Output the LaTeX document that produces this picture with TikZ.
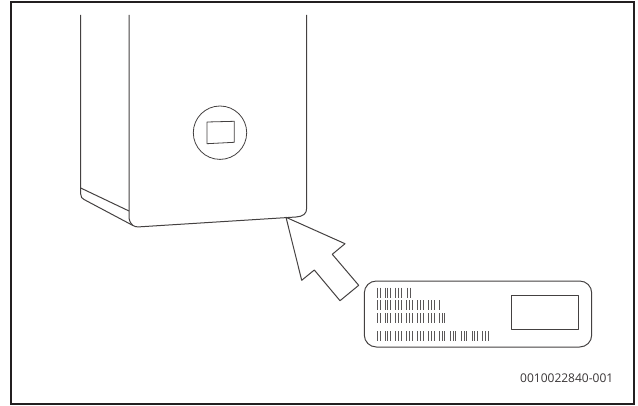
\documentclass[tikz,border=0pt]{standalone}
\usepackage{fontspec}
\setmainfont{Open Sans}
\definecolor{frameblack}{HTML}{231F20}
\tikzset{
    outline/.style={draw=frameblack!85, line width=0.75pt, line join=round},
    thinline/.style={draw=frameblack!85, line width=0.6pt, line join=round},
    barcode/.style={draw=frameblack!75, line width=0.7pt},
    figno/.style={font=\fontsize{9}{11}\selectfont, text=frameblack!90, inner sep=0pt},
}
% one row of the label: top y, list of groups of strokes
\newcommand{\barrow}[2]{%
  \foreach \gx/\gn in {#2} {
    \foreach \k in {1,...,\gn} {
      \draw[barcode] ({\gx+(\k-1)*2.7},#1) -- ({\gx+(\k-1)*2.7},#1+10);
    }
  }
}
\begin{document}
\begin{tikzpicture}[x=0.75pt,y=-0.75pt]
\useasboundingbox (0,0) rectangle (638,406);
% frame
\draw[draw=frameblack, line width=1.6pt] (11,2) rectangle (634,404);
% appliance
\draw[outline] (80.7,15) -- (80.7,194) .. controls (80.7,197) and (82,198.5) .. (84,199.5) -- (132,225) .. controls (134,226.5) and (136,227) .. (140,226.8) -- (296,217) .. controls (303,216.5) and (306.7,214) .. (306.7,208) -- (306.7,15);
\draw[outline] (129,15) -- (129,216) .. controls (129,220) and (130,223) .. (133,225.5);
\draw[outline] (80.7,188) -- (129,211);
\draw[thinline] (220,132.7) circle (26.7);
\draw[thinline] (207,122) -- (234.3,121.3) -- (234.3,142.3) -- (207,143.7) -- cycle;
% arrow
\draw[outline] (286,217.3) -- (345,243.7) -- (332.3,254.3) -- (358.7,285.3) -- (340,300.7) -- (314.3,270) -- (301.7,280.3) -- cycle;
% label
\draw[outline, rounded corners=9pt] (364.3,281) rectangle (591.7,347);
\draw[thinline] (511.3,295.3) rectangle (578.7,329.7);
\barrow{287.5}{377.3/2,385/3,395.9/3,407.3/2}
\barrow{300}{377.3/2,385/3,395.9/3,406.8/3,417.7/3,428.6/3,439.5/1}
\barrow{313}{377.3/2,385/3,395.9/3,406.8/3,417.7/3,428.6/3,439.5/3}
\barrow{331}{377.3/2,385/3,395.9/3,406.8/3,417.7/3,428.6/3,439.5/3,450.4/3,461.3/3,472.2/3,482.6/3}
\node[figno, anchor=base east] (figlabel) at (613.5,382.5) {0010022840-001};
\end{tikzpicture}
\end{document}
